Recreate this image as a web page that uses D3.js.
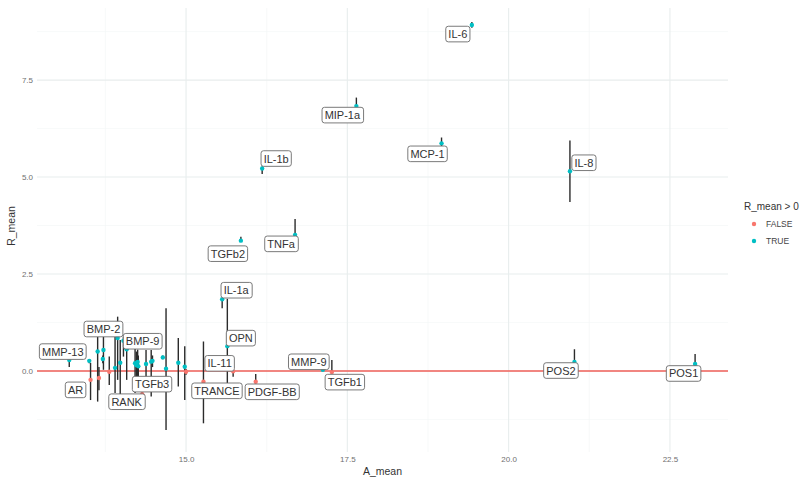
<!DOCTYPE html>
<html>
<head>
<meta charset="utf-8">
<script src="https://cdn.jsdelivr.net/npm/d3@7"></script>
<style>
  html, body { margin: 0; padding: 0; background: #fff; }
  svg { display: block; font-family: "Liberation Sans", Arial, Helvetica, sans-serif; }
</style>
</head>
<body>
<svg id="chart" width="808" height="480"></svg>
<script>
// Mean ratio per analyte against mean abundance, with min–max bars.
const genes  = ["IL-6", "MIP-1a", "MCP-1", "IL-8", "IL-1b", "TNFa", "TGFb2", "IL-1a", "OPN", "IL-11",
                "TRANCE", "PDGF-BB", "MMP-9", "TGFb1", "POS2", "POS1", "MMP-13", "AR", "BMP-2", "BMP-9",
                "RANK", "TGFb3",
                "", "", "", "", "", "", "", "", "", "",
                "", "", "", "", "", "", "", "", "", ""];
const A_mean = [19.43, 17.64, 18.96, 20.95, 16.18, 16.69, 15.85, 15.56, 15.64, 15.73,
                15.27, 16.08, 17.12, 17.26, 21.02, 22.89, 13.19, 13.52, 13.72, 14.08,
                14.32, 14.69,
                13.50, 13.63, 13.65, 13.71, 13.81, 13.90, 13.94, 13.98, 14.03, 14.21,
                14.23, 14.25, 14.26, 14.38, 14.46, 14.48, 14.64, 14.88, 14.98, 15.00];
const R_mean = [8.92, 6.83, 5.87, 5.15, 5.22, 3.51, 3.36, 1.85, 0.64, -0.01,
                -0.28, -0.28, 0.03, -0.03, 0.23, 0.18, 0.28, -0.23, 0.54, 0.56,
                -0.60, 0.06,
                0.26, 0.50, -0.18, 0.31, -0.02, 0.08, 0.85, 0.21, 0.78, 0.20,
                0.15, 0.23, 0.12, 0.18, 0.24, 0.26, 0.35, 0.21, 0.11, -0.02];
const R_low  = [8.85, 6.80, 5.80, 4.36, 5.08, 3.51, 3.33, 1.62, -0.31, -0.15,
                -1.35, -0.28, 0.00, -0.05, 0.20, 0.15, 0.10, -0.75, 0.03, -0.23,
                -0.65, -1.52,
                0.20, -0.79, -0.50, 0.20, -0.36, -0.57, -0.23, -0.66, 0.37, -0.57,
                -0.40, -0.50, -0.30, -0.36, -0.66, 0.10, 0.30, -0.40, -0.75, -0.10];
const R_high = [9.00, 7.05, 6.02, 5.94, 5.27, 3.92, 3.46, 1.88, 1.86, 0.00,
                0.76, -0.08, 0.06, 0.28, 0.56, 0.44, 0.30, 0.21, 0.88, 0.63,
                -0.52, 1.62,
                0.30, 0.88, 0.10, 0.40, 0.37, 0.88, 1.40, 0.80, 0.88, 0.57,
                0.50, 0.55, 0.40, 0.54, 0.54, 0.40, 0.40, 0.85, 0.64, 0.05];

const xTicks = [15, 17.5, 20, 22.5];
const yTicks = [0, 2.5, 5, 7.5];
const xMinor = [13.75, 16.25, 18.75, 21.25];
const yMinor = [-1.25, 1.25, 3.75, 6.25, 8.75];
const legendLevels = ["FALSE", "TRUE"];

// Repelled label placement (pixel offset of each box centre from its point)
const labelShift = {
  "IL-6": [-14, 9], "MIP-1a": [-14, 9], "MCP-1": [-14, 10.5], "IL-8": [14, -8.5],
  "IL-1b": [14, -10], "TNFa": [-14, 9], "TGFb2": [-13, 13], "IL-1a": [14, -9],
  "OPN": [13.5, -8], "IL-11": [-13.5, -8], "TRANCE": [13.5, 9], "PDGF-BB": [16.5, 10],
  "MMP-9": [-14, -8], "TGFb1": [13, 10], "POS2": [-13.5, 8.5], "POS1": [-11.5, 9.5],
  "MMP-13": [-6.5, -8.5], "AR": [-15, 10], "BMP-2": [0, -21], "BMP-9": [16, -8],
  "RANK": [-15.5, 7.5], "TGFb3": [-14, 15.5]
};

const data = genes.map((g, i) => ({
  gene: g, a: A_mean[i], r: R_mean[i], lo: R_low[i], hi: R_high[i], pos: R_mean[i] > 0
}));

const svg = d3.select("#chart");
const panel = { left: 37, right: 728, top: 8, bottom: 452 };

const x = d3.scaleLinear().domain([12.69, 23.40]).range([panel.left, panel.right]);
const y = d3.scaleLinear().domain([-2.09, 9.36]).range([panel.bottom, panel.top]);
const colour = d3.scaleOrdinal().domain(legendLevels).range(["#F8766D", "#00BFC4"]);

// grid
const grid = svg.append("g");
grid.selectAll(".xmin").data(xMinor).join("line")
  .attr("x1", d => x(d)).attr("x2", d => x(d)).attr("y1", panel.top).attr("y2", panel.bottom)
  .attr("stroke", "#f2f5f5").attr("stroke-width", 0.6);
grid.selectAll(".ymin").data(yMinor).join("line")
  .attr("y1", d => y(d)).attr("y2", d => y(d)).attr("x1", panel.left).attr("x2", panel.right)
  .attr("stroke", "#f2f5f5").attr("stroke-width", 0.6);
grid.selectAll(".xmaj").data(xTicks).join("line")
  .attr("x1", d => x(d)).attr("x2", d => x(d)).attr("y1", panel.top).attr("y2", panel.bottom)
  .attr("stroke", "#e8eded").attr("stroke-width", 1.1);
grid.selectAll(".ymaj").data(yTicks).join("line")
  .attr("y1", d => y(d)).attr("y2", d => y(d)).attr("x1", panel.left).attr("x2", panel.right)
  .attr("stroke", "#e8eded").attr("stroke-width", 1.1);

// axes (text only, minimal theme)
const xAxis = svg.append("g").attr("transform", `translate(0,${panel.bottom})`)
  .call(d3.axisBottom(x).tickValues(xTicks).tickFormat(d3.format(".1f")).tickSize(0).tickPadding(4));
const yAxis = svg.append("g").attr("transform", `translate(${panel.left},0)`)
  .call(d3.axisLeft(y).tickValues(yTicks).tickFormat(d3.format(".1f")).tickSize(0).tickPadding(4));
[xAxis, yAxis].forEach(g => {
  g.select(".domain").remove();
  g.selectAll("text").attr("fill", "#707070").attr("font-size", 8)
    .attr("font-family", "Liberation Sans, Arial, sans-serif");
});

// zero reference line
svg.append("line")
  .attr("x1", panel.left).attr("x2", panel.right).attr("y1", y(0)).attr("y2", y(0))
  .attr("stroke", "#F0605A").attr("stroke-width", 1.5);

// range bars
svg.append("g").selectAll("line").data(data).join("line")
  .attr("x1", d => x(d.a)).attr("x2", d => x(d.a))
  .attr("y1", d => y(d.lo)).attr("y2", d => y(d.hi))
  .attr("stroke", "#2b2b2b").attr("stroke-width", 1.4);

// points
svg.append("g").selectAll("circle").data(data).join("circle")
  .attr("cx", d => x(d.a)).attr("cy", d => y(d.r)).attr("r", 2.2)
  .attr("fill", d => colour(d.pos ? "TRUE" : "FALSE"));

// labels
const lab = svg.append("g").selectAll("g").data(data.filter(d => d.gene)).join("g")
  .attr("transform", d => {
    const s = labelShift[d.gene] || [0, 0];
    return `translate(${x(d.a) + s[0]},${y(d.r) + s[1]})`;
  });
lab.append("text")
  .attr("text-anchor", "middle").attr("dy", "0.36em")
  .attr("font-size", 11).attr("fill", "#333")
  .text(d => d.gene);
lab.each(function () {
  const g = d3.select(this);
  const bb = g.select("text").node().getBBox();
  const pad = 2.6;
  g.insert("rect", "text")
    .attr("x", bb.x - pad).attr("y", -7.8)
    .attr("width", bb.width + 2 * pad).attr("height", 15.6)
    .attr("rx", 2.5).attr("ry", 2.5)
    .attr("fill", "#fff").attr("stroke", "#6b6b6b").attr("stroke-width", 0.9);
});

// axis titles
svg.append("text").attr("x", (panel.left + panel.right) / 2).attr("y", 475)
  .attr("text-anchor", "middle").attr("font-size", 10.5).attr("fill", "#333").text("A_mean");
svg.append("text").attr("transform", `translate(15,${(panel.top + panel.bottom) / 2 - 4}) rotate(-90)`)
  .attr("text-anchor", "middle").attr("font-size", 10.5).attr("fill", "#333").text("R_mean");

// legend
const leg = svg.append("g").attr("transform", "translate(744,0)");
leg.append("text").attr("x", 0).attr("y", 210).attr("font-size", 10).attr("fill", "#333").text("R_mean > 0");
leg.selectAll("g").data(legendLevels).join("g")
  .attr("transform", (d, i) => `translate(10,${224 + i * 17})`)
  .call(g => {
    g.append("circle").attr("r", 2.2).attr("fill", d => colour(d));
    g.append("text").attr("x", 12).attr("dy", "0.35em").attr("font-size", 8.5).attr("fill", "#444").text(d => d);
  });
</script>
</body>
</html>
